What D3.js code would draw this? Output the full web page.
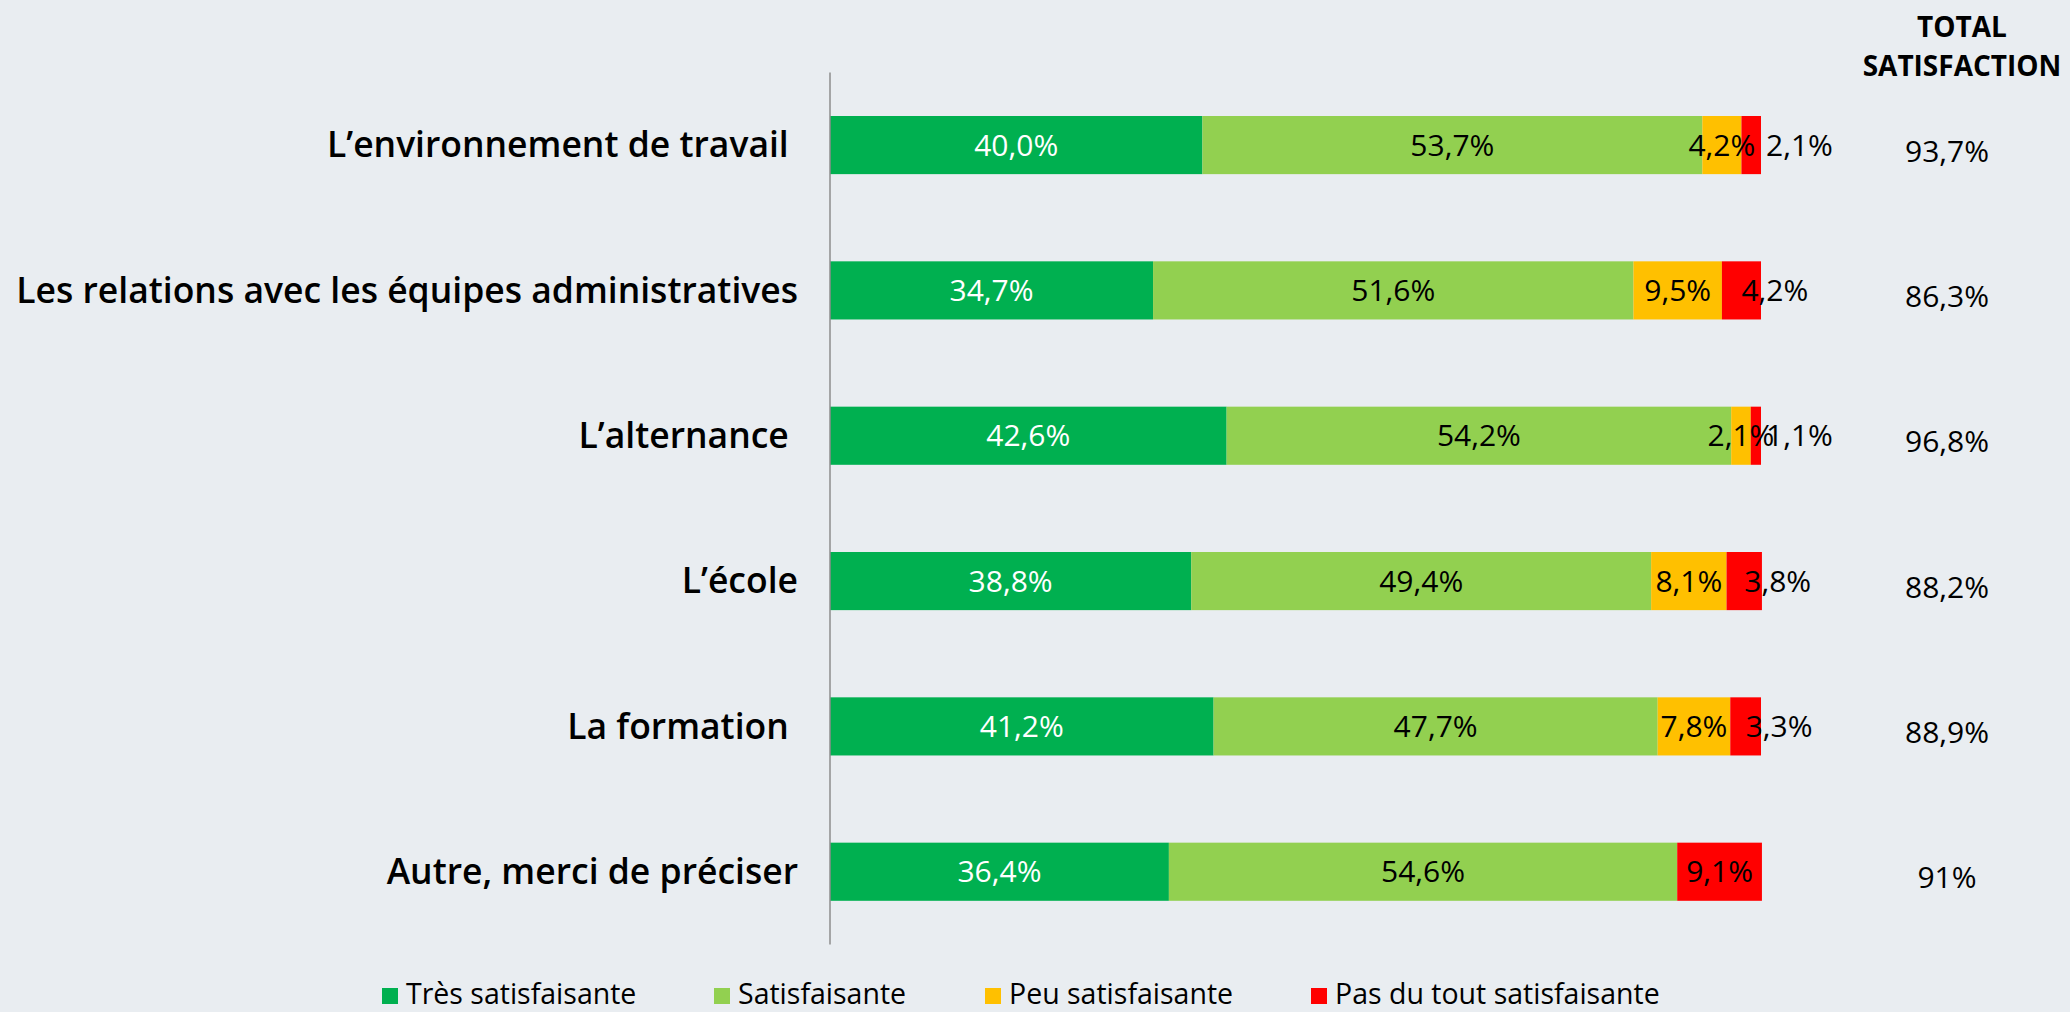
<!DOCTYPE html>
<html>

<head>
  <title> </title>
</head>
<meta charset="utf-8">
<style>
  body {
    margin: 0;
    background: #e9edf1;
  }

  text {
    font-family: "Open Sans", "Noto Sans", sans-serif;
    fill: #000;
  }

  .cat {
    font-size: 35.5px;
    font-weight: 600;
    white-space: pre;
  }

  .val {
    font-size: 30px;
  }

  .head {
    font-size: 28px;
    font-weight: 700;
  }

  .leg {
    font-size: 28.5px;
  }
</style>

<body>
  <svg width="2070" height="1012"></svg>
  <script src="https://cdn.jsdelivr.net/npm/d3@7"></script>
  <script>
    // categories (trailing spaces kept as in the original labels)
    var categories = [
      "L’environnement de travail ",
      "Les relations avec les équipes administratives",
      "L’alternance ",
      "L’école",
      "La formation ",
      "Autre, merci de préciser"
    ];
    var seriesNames = ["Très satisfaisante", "Satisfaisante", "Peu satisfaisante", "Pas du tout satisfaisante"];
    var tresSatisf = [40.0, 34.7, 42.6, 38.8, 41.2, 36.4];
    var satisf = [53.7, 51.6, 54.2, 49.4, 47.7, 54.6];
    var peuSatisf = [4.2, 9.5, 2.1, 8.1, 7.8, 0];
    var pasSatisf = [2.1, 4.2, 1.1, 3.8, 3.3, 9.1];
    var totalLabels = ["93,7%", "86,3%", "96,8%", "88,2%", "88,9%", "91%"];
    var colors = ["#00b050", "#92d050", "#ffc000", "#ff0000"];

    var svg = d3.select("svg"),
      left = 830,
      right = 1761;

    svg.append("rect").attr("width", 2070).attr("height", 1012).attr("fill", "#e9edf1");

    var x = d3.scaleLinear().domain([0, 100]).range([left, right]);
    var y = d3.scaleBand().domain(categories).range([72.4, 944.4])
      .paddingInner(0.6).paddingOuter(0.3);

    var series = [tresSatisf, satisf, peuSatisf, pasSatisf];
    var rows = categories.map(function(c, i) {
      var o = { cat: c };
      seriesNames.forEach(function(s, k) { o[s] = series[k][i]; });
      return o;
    });
    var stacked = d3.stack().keys(seriesNames)(rows);

    var layer = svg.selectAll(".layer")
      .data(stacked)
      .enter().append("g")
      .attr("class", "layer")
      .attr("fill", function(d, k) { return colors[k]; });

    layer.selectAll("rect")
      .data(function(d) { return d; })
      .enter().append("rect")
      .attr("x", function(d) { return x(d[0]); })
      .attr("y", function(d) { return y(d.data.cat); })
      .attr("width", function(d) { return x(d[1]) - x(d[0]); })
      .attr("height", y.bandwidth());

    // value labels; small red ones are pushed to the right like in the original
    stacked.forEach(function(s, k) {
      svg.append("g").selectAll("text")
        .data(s.filter(function(d) { return d[1] - d[0] > 0; }))
        .enter().append("text")
        .attr("class", "val")
        .attr("x", function(d) {
          var v = d[1] - d[0];
          if (k == 3 && v < 2.5) return x(d[1]) + 5;
          return x((d[0] + d[1]) / 2);
        })
        .attr("y", function(d) { return y(d.data.cat) + y.bandwidth() / 2; })
        .attr("dy", "0.35em")
        .attr("text-anchor", function(d) {
          return (k == 3 && d[1] - d[0] < 5) ? "start" : "middle";
        })
        .style("fill", k == 0 ? "#fff" : "#000")
        .text(function(d) { return d3.format(".1f")(d[1] - d[0]).replace(".", ",") + "%"; });
    });

    // axis line
    svg.append("line")
      .attr("x1", left).attr("x2", left)
      .attr("y1", y.range()[0]).attr("y2", y.range()[1])
      .attr("stroke", "#8c8c8c").attr("stroke-width", 1.5);

    // category labels
    svg.append("g").selectAll("text")
      .data(categories)
      .enter().append("text")
      .attr("class", "cat")
      .attr("x", 798)
      .attr("y", function(d) { return y(d) + y.bandwidth() / 2; })
      .attr("dy", "0.35em")
      .attr("text-anchor", "end")
      .text(function(d) { return d; });

    // total column
    svg.append("text").attr("class", "head").attr("x", 1962).attr("y", 37)
      .attr("text-anchor", "middle").text("TOTAL");
    svg.append("text").attr("class", "head").attr("x", 1962).attr("y", 76)
      .attr("text-anchor", "middle").text("SATISFACTION");

    svg.append("g").selectAll("text")
      .data(totalLabels)
      .enter().append("text")
      .attr("class", "val")
      .attr("x", 1947)
      .attr("y", function(d, i) { return y(categories[i]) + y.bandwidth() / 2 + 6; })
      .attr("dy", "0.35em")
      .attr("text-anchor", "middle")
      .text(function(d) { return d; });

    // legend
    var legX = [382, 714, 985, 1311];
    var leg = svg.append("g").selectAll("g")
      .data(seriesNames)
      .enter().append("g")
      .attr("transform", function(d, i) { return "translate(" + legX[i] + ",988)"; });
    leg.append("rect").attr("width", 16).attr("height", 16)
      .attr("fill", function(d, i) { return colors[i]; });
    leg.append("text").attr("class", "leg").attr("x", 24).attr("y", 16)
      .text(function(d) { return d; });
  </script>
</body>

</html>
